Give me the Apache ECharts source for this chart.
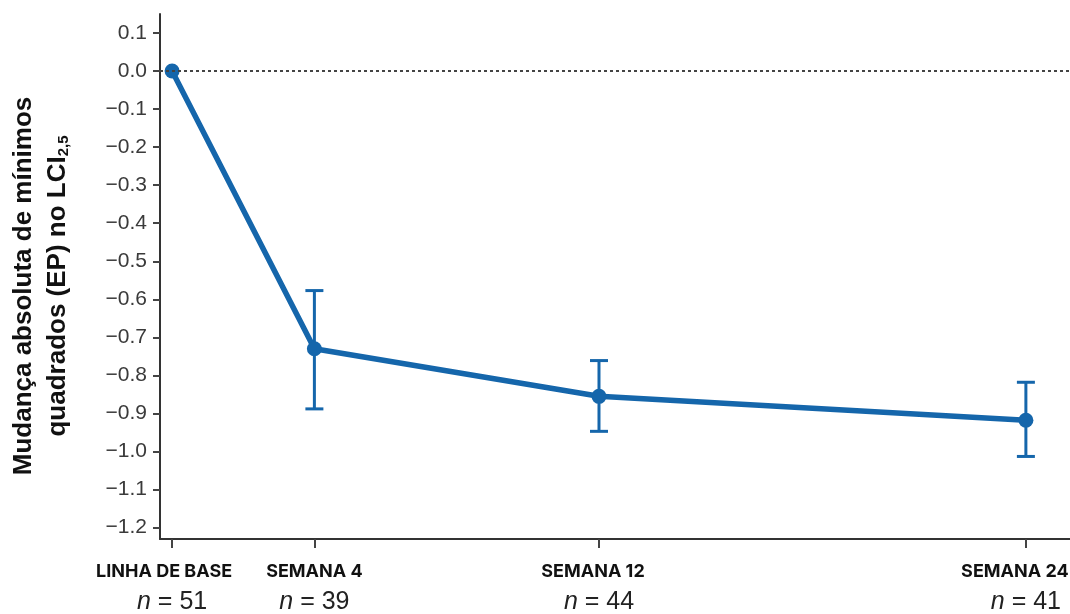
<!DOCTYPE html>
<html>
<head>
<meta charset="utf-8">
<script src="https://cdn.jsdelivr.net/npm/echarts@6/dist/echarts.min.js"></script>
<style>
  html, body { margin: 0; padding: 0; background: #fff; }
  #chart { width: 1070px; height: 614px; }
</style>
</head>
<body>
<div id="chart"></div>
<script>
// dados do gráfico
var weeks = [0, 4, 12, 24];
var weekNames = ['LINHA DE BASE', 'SEMANA 4', 'SEMANA 12', 'SEMANA 24'];
var nValues = [51, 39, 44, 41];
var meanChange = [0, -0.73, -0.855, -0.918];
var errLow = [0, -0.888, -0.947, -1.013];
var errHigh = [0, -0.577, -0.761, -0.818];
var yTicks = [0.1, 0, -0.1, -0.2, -0.3, -0.4, -0.5, -0.6, -0.7, -0.8, -0.9, -1.0, -1.1, -1.2];

var blue = '#1566ab';
var chart = echarts.init(document.getElementById('chart'));

var lineData = weeks.map(function (w, i) { return [w, meanChange[i]]; });
var errData = [];
for (var i = 1; i < weeks.length; i++) {
  errData.push([weeks[i], errLow[i], errHigh[i]]);
}

function fmtY(v) {
  var s = Math.abs(v).toFixed(1);
  return v < -0.0001 ? '\u2212' + s : s;
}

// estilos dos rótulos do eixo x (o título de cada semana fica um pouco à esquerda)
var tBase = { fontFamily: 'Inter', fontWeight: 'bold', fontSize: 18, color: '#111', lineHeight: 30 };
function tStyle(shift) {
  return Object.assign({}, tBase, { padding: [0, shift * 2, 0, 0] });
}

var option = {
  animation: false,
  grid: { left: 160, right: 0, top: 14, bottom: 75, containLabel: false, outerBoundsMode: 'none' },
  xAxis: {
    type: 'value',
    min: -0.34,
    max: 25.24,
    splitLine: { show: false },
    axisLine: { onZero: false, lineStyle: { color: '#333', width: 2 } },
    axisTick: { customValues: weeks, length: 9, lineStyle: { color: '#444', width: 2 } },
    axisLabel: {
      customValues: weeks,
      margin: 18,
      hideOverlap: false,
      formatter: function (v) {
        var idx = weeks.indexOf(v);
        return '{t' + idx + '|' + weekNames[idx] + '}\n{n|n}{e| = ' + nValues[idx] + '}';
      },
      rich: {
        t0: tStyle(8),
        t1: tStyle(0),
        t2: tStyle(6),
        t3: tStyle(11),
        n: { fontFamily: 'Liberation Sans', fontStyle: 'italic', fontSize: 25, color: '#222', lineHeight: 30 },
        e: { fontFamily: 'Liberation Sans', fontSize: 25, color: '#222', lineHeight: 30 }
      }
    }
  },
  yAxis: {
    type: 'value',
    min: -1.23,
    max: 0.15,
    splitLine: { show: false },
    axisLine: { show: true, onZero: false, lineStyle: { color: '#333', width: 2 } },
    axisTick: { show: true, customValues: yTicks, length: 7, lineStyle: { color: '#444', width: 2 } },
    axisLabel: {
      customValues: yTicks,
      margin: 13,
      formatter: fmtY,
      fontFamily: 'Liberation Sans',
      fontSize: 21,
      color: '#3a3a3a'
    }
  },
  graphic: [
    {
      type: 'text',
      x: 24, y: 286,
      rotation: Math.PI / 2,
      style: {
        text: 'Mudança absoluta de mínimos',
        fontFamily: 'Liberation Sans', fontWeight: 'bold', fontSize: 26,
        fill: '#111', align: 'center', verticalAlign: 'middle'
      }
    },
    {
      type: 'text',
      x: 58, y: 286,
      rotation: Math.PI / 2,
      style: {
        text: 'quadrados (EP) no LCI{s|2,5}',
        fontFamily: 'Liberation Sans', fontWeight: 'bold', fontSize: 26,
        fill: '#111', align: 'center', verticalAlign: 'middle',
        rich: {
          s: { fontFamily: 'Liberation Sans', fontWeight: 'bold', fontSize: 15, fill: '#111', padding: [12, 0, 0, 0] }
        }
      }
    }
  ],
  series: [
    {
      type: 'line',
      data: lineData,
      symbol: 'circle',
      symbolSize: 15,
      z: 3,
      itemStyle: { color: blue },
      lineStyle: { color: blue, width: 5.5 },
      markLine: {
        silent: true,
        symbol: 'none',
        label: { show: false },
        lineStyle: { color: '#444', type: [3, 3], width: 2 },
        data: [{ yAxis: 0 }]
      }
    },
    {
      type: 'custom',
      data: errData,
      z: 2,
      renderItem: function (params, api) {
        var x = api.value(0);
        var lo = api.coord([x, api.value(1)]);
        var hi = api.coord([x, api.value(2)]);
        var cap = 9;
        var st = { stroke: blue, lineWidth: 3 };
        return {
          type: 'group',
          children: [
            { type: 'line', shape: { x1: lo[0], y1: lo[1], x2: hi[0], y2: hi[1] }, style: st },
            { type: 'line', shape: { x1: lo[0] - cap, y1: lo[1], x2: lo[0] + cap, y2: lo[1] }, style: st },
            { type: 'line', shape: { x1: hi[0] - cap, y1: hi[1], x2: hi[0] + cap, y2: hi[1] }, style: st }
          ]
        };
      }
    }
  ]
};

chart.setOption(option);
</script>
</body>
</html>
